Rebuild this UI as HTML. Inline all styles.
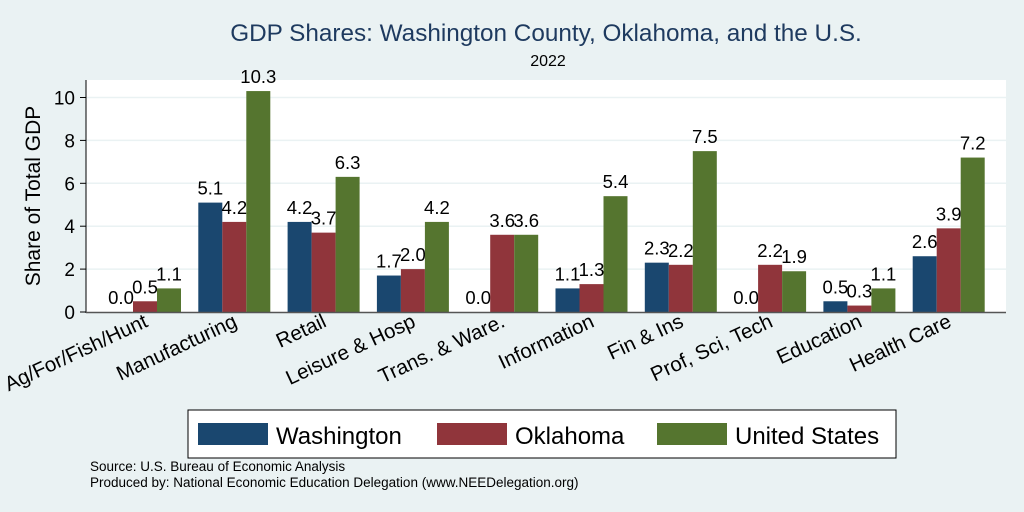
<!DOCTYPE html>
<html><head><meta charset="utf-8"><style>
body{margin:0;background:#eaf2f3;}
svg{display:block;font-family:"Liberation Sans",Arial,sans-serif;}
</style></head><body>
<svg id="c" width="1024" height="512">
<rect x="0" y="0" width="1024" height="512" fill="#eaf2f3"/>
<text x="546" y="41" text-anchor="middle" font-size="24.3" fill="#1e3a5f">GDP Shares: Washington County, Oklahoma, and the U.S.</text>
<text x="548" y="66" text-anchor="middle" font-size="16" fill="#000">2022</text>
<rect x="86" y="80" width="920" height="232" fill="#fff"/>
<g id="grid"></g><g id="bars"></g><g id="xl"></g>
<line x1="86" y1="80" x2="86" y2="313" stroke="#000" stroke-width="1"/>
<line x1="86" y1="312.5" x2="1006" y2="312.5" stroke="#555" stroke-width="1.5"/>
<text transform="translate(40,196) rotate(-90)" text-anchor="middle" font-size="21">Share of Total GDP</text>
<g>
<rect x="188" y="410" width="708" height="48" fill="#fff" stroke="#000" stroke-width="1"/>
<rect x="198" y="423" width="70" height="22" fill="#1a476f"/>
<text x="276" y="444" font-size="24">Washington</text>
<rect x="437" y="423" width="70" height="22" fill="#90353b"/>
<text x="515" y="444" font-size="24">Oklahoma</text>
<rect x="657" y="423" width="70" height="22" fill="#55752f"/>
<text x="735" y="444" font-size="24">United States</text>
</g>
<text x="90" y="471" font-size="13.5">Source: U.S. Bureau of Economic Analysis</text>
<text x="90" y="487" font-size="13.5">Produced by: National Economic Education Delegation (www.NEEDelegation.org)</text>
</svg>
<script>
const categories=["Ag/For/Fish/Hunt","Manufacturing","Retail","Leisure & Hosp","Trans. & Ware.","Information","Fin & Ins","Prof, Sci, Tech","Education","Health Care"];
const washington=[0.0,5.1,4.2,1.7,0.0,1.1,2.3,0.0,0.5,2.6];
const oklahoma=[0.5,4.2,3.7,2.0,3.6,1.3,2.2,2.2,0.3,3.9];
const unitedStates=[1.1,10.3,6.3,4.2,3.6,5.4,7.5,1.9,1.1,7.2];
const yTicks=[0,2,4,6,8,10];
const NS="http://www.w3.org/2000/svg";
const y=v=>312-v*21.45;
const gx=i=>145+i*89.3;
const bw=24;
function mk(t,a,p){const e=document.createElementNS(NS,t);for(const k in a)e.setAttribute(k,a[k]);p.appendChild(e);return e;}
const grid=document.getElementById('grid');
yTicks.forEach(t=>{
 if(t>0){const l=mk('line',{x1:86,x2:1006,y1:y(t),y2:y(t),stroke:'#eaf2f3','stroke-width':1.5},grid);
 
 }
 const tk=mk('line',{x1:80,x2:86,y1:y(t),y2:y(t),stroke:'#000'},grid);
 
 
 const tx=mk('text',{x:75,y:y(t)+7,'text-anchor':'end','font-size':19},grid);tx.textContent=t;
 
 
});
const bars=document.getElementById('bars');
const series=[[washington,'#1a476f','washington'],[oklahoma,'#90353b','oklahoma'],[unitedStates,'#55752f','us']];
categories.forEach((c,i)=>{
 series.forEach((s,j)=>{
  const v=s[0][i];const cx=gx(i)+(j-1)*bw;
  const r=mk('rect',{x:cx-bw/2,y:y(v),width:bw,height:312-y(v),fill:s[1]},bars);
  
  
  const t=mk('text',{x:cx,y:y(v)-8,'text-anchor':'middle','font-size':18.5},bars);t.textContent=v.toFixed(1);
  
  
 });
 const xl=mk('text',{transform:`translate(${gx(i)+4},${326}) rotate(-25)`,'text-anchor':'end','font-size':20.5},document.getElementById('xl'));
 xl.textContent=c;
 
 
});
</script>
</body></html>
